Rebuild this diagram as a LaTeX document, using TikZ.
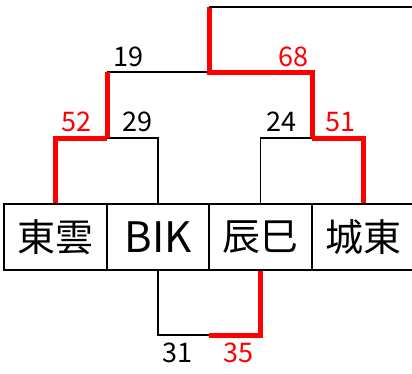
\documentclass[tikz,border=0pt]{standalone}
\usepackage{fontspec}
\setmainfont{Noto Sans CJK JP}
\definecolor{win}{RGB}{255,0,0}
\begin{document}
\begin{tikzpicture}[x=1pt,y=-1pt,
  team/.style={draw, line width=1.8pt, minimum width=103pt, minimum height=66pt, inner sep=0pt, font=\fontsize{38}{40}\selectfont},
  lose/.style={line width=1.8pt, black},
  winline/.style={line width=5pt, win},
  score/.style={inner sep=0pt, font=\fontsize{27}{30}\selectfont},
  wscore/.style={score, text=win}]
\useasboundingbox (0,0) rectangle (412,373);
\clip (0,0) rectangle (412,373);
\node[team] (t1) at (55.5,237) {東雲};
\node[team] (t2) at (158,237) {\fontsize{42}{44}\selectfont BIK};
\node[team] (t3) at (260.5,237) {辰巳};
\node[team] (t4) at (363.5,237) {城東};
\coordinate (s1) at (107,138);
\coordinate (s2) at (312,138);
\coordinate (f) at (209,72);
\coordinate (top) at (209,7);
\coordinate (topend) at (420,7);
\coordinate (third) at (209,335);
% semifinal left
\draw[lose] (s1) -| (t2.north);
\draw[winline] (t1.north) |- (s1);
% semifinal right
\draw[lose] (s2) -| (t3.north);
\draw[winline] (t4.north) |- (s2);
% final
\draw[lose] (s1 |- f) -- (f);
\draw[winline] (s1) -- (s1 |- f);
\draw[winline, line join=miter] (s2) |- (f) -- (top);
\draw[lose] (top) -- (topend);
% third place
\draw[lose] (t2.south) |- (third);
\draw[winline] (t3.south) |- (third);
% scores
\node[score] (n19) at (128,57) {19};
\node[wscore] (n68) at (293,57) {68};
\node[wscore] (n52) at (76,122) {52};
\node[score] (n29) at (137,122) {29};
\node[score] (n24) at (281,122) {24};
\node[wscore] (n51) at (340,122) {51};
\node[score] (n31) at (177,353) {31};
\node[wscore] (n35) at (238,353) {35};
\end{tikzpicture}
\end{document}
